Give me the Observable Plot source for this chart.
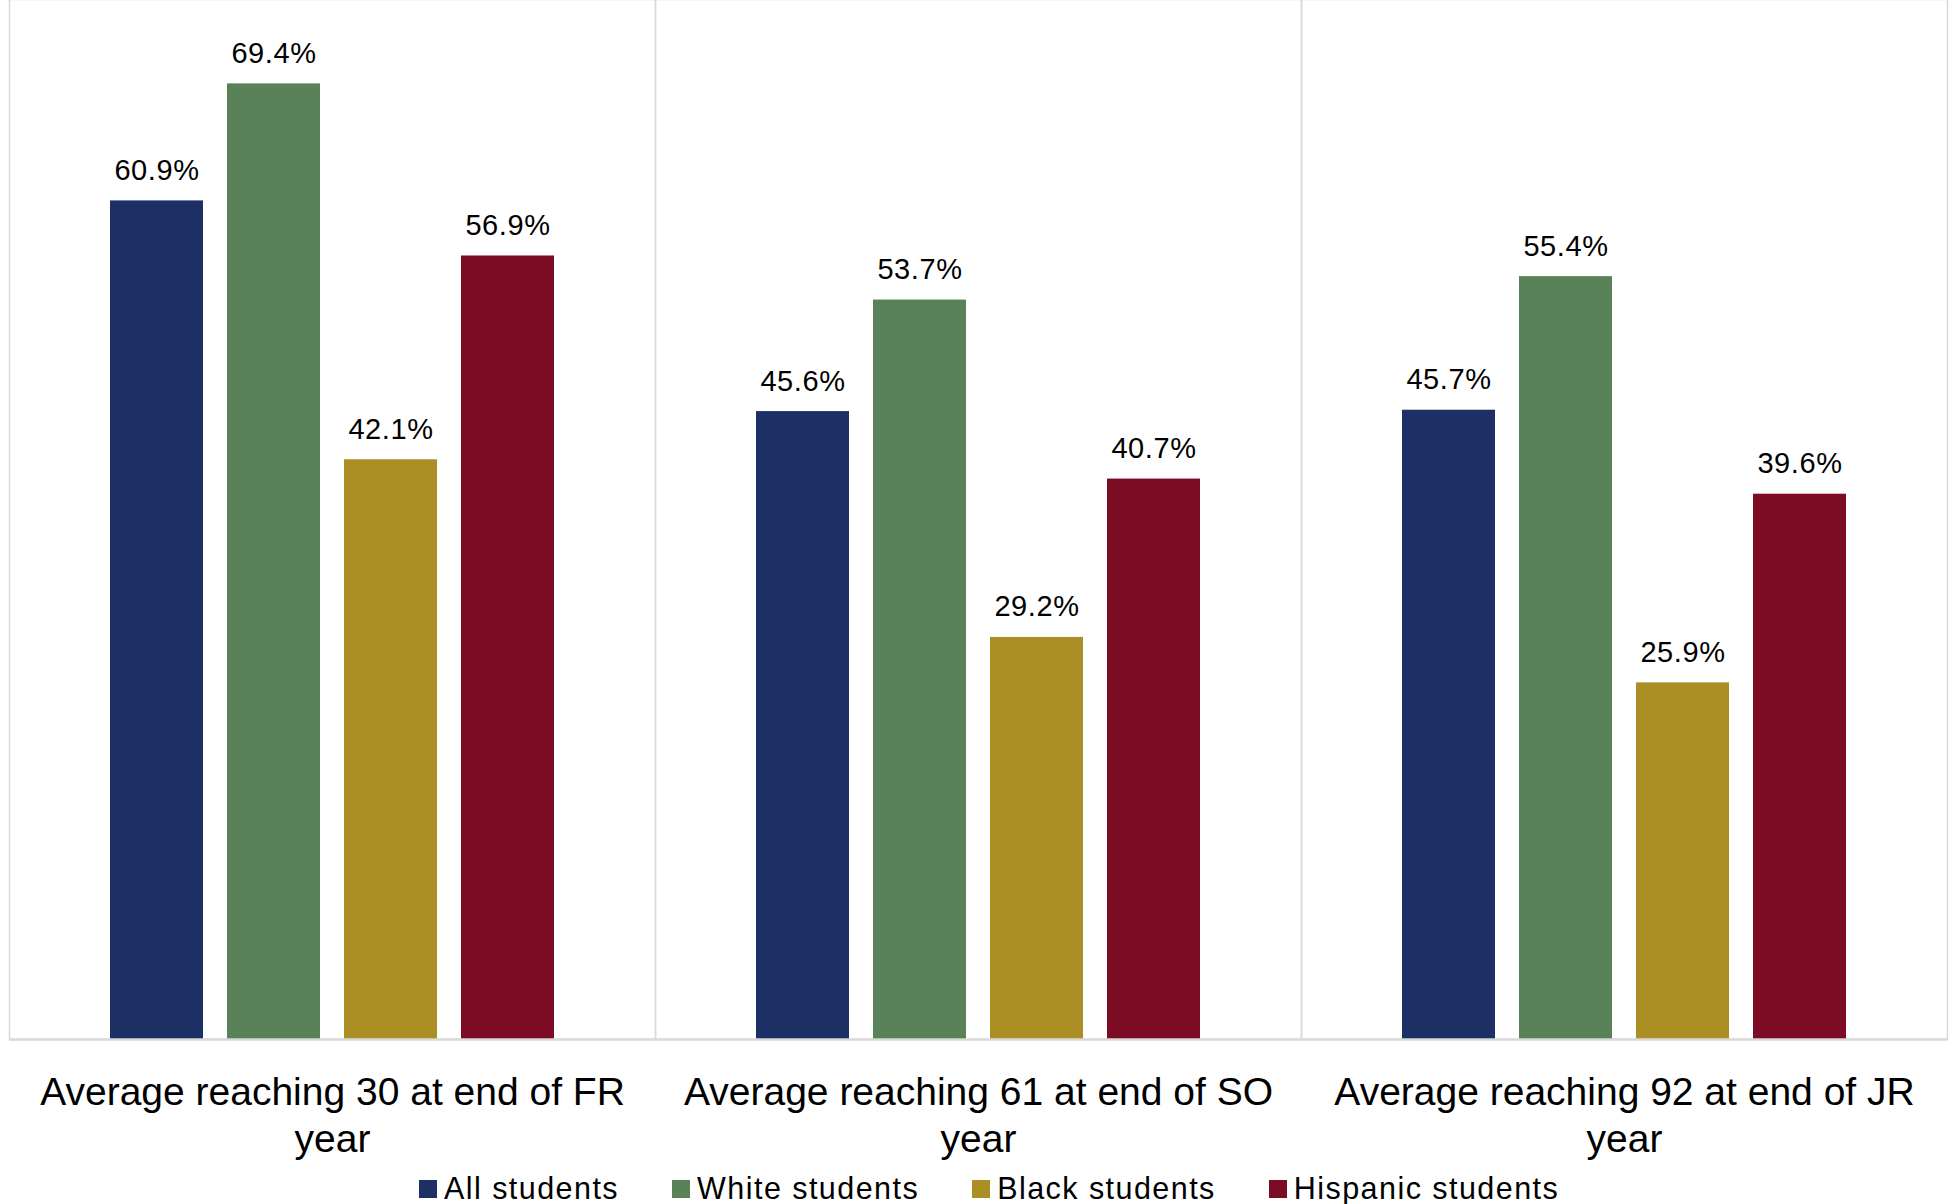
<!DOCTYPE html>
<html>
<head>
<meta charset="utf-8">
<script src="https://cdn.jsdelivr.net/npm/d3@7"></script>
<script src="https://cdn.jsdelivr.net/npm/@observablehq/plot@0.6"></script>
<style>
html, body { margin: 0; padding: 0; background: #fff; overflow: hidden; }
#wrap { position: relative; width: 1951px; height: 1204px; overflow: hidden; background: #fff; }
#chart { position: absolute; left: 0; top: -2px; }
#legend { position: absolute; left: 419px; top: 1171px; }
#legend .lg-swatches { font-family: "Liberation Sans", Arial, Helvetica, sans-serif; font-size: 30.5px; letter-spacing: 1.45px; color: #000; margin: 0; min-height: 0; }
#legend .lg-swatch { margin-right: 53px; display: inline-flex; align-items: center; }
#legend .lg-swatch > svg { margin-right: 7px; }
</style>
</head>
<body>
<div id="wrap"><div id="chart"></div><div id="legend"></div></div>
<script>
const categories = [
  "Average reaching 30 at end of FR year",
  "Average reaching 61 at end of SO year",
  "Average reaching 92 at end of JR year"
];
const series = ["All students", "White students", "Black students", "Hispanic students"];
const allStudents = [60.9, 45.6, 45.7];
const whiteStudents = [69.4, 53.7, 55.4];
const blackStudents = [42.1, 29.2, 25.9];
const hispanicStudents = [56.9, 40.7, 39.6];
const colors = ["#1c3066", "#598258", "#ab8f25", "#7b0c24"];

const seriesValues = [allStudents, whiteStudents, blackStudents, hispanicStudents];
const rows = [];
categories.forEach((g, i) => {
  series.forEach((s, j) => rows.push({group: g, series: s, value: seriesValues[j][i]}));
});

const font = '"Liberation Sans", Arial, Helvetica, sans-serif';
const H = 1167;
const plot = Plot.plot({
  width: 1951,
  height: H,
  marginLeft: 9,
  marginRight: 4,
  marginTop: 1,
  marginBottom: H - 1041,
  style: {fontFamily: font, background: "white", color: "black"},
  fx: {domain: categories, padding: 0, axis: null},
  x: {domain: series, paddingInner: 0.205, paddingOuter: 0.863, axis: null},
  y: {domain: [0, 1040 / 13.77], axis: null},
  color: {domain: series, range: colors},
  marks: [
    Plot.frame({stroke: "#d9d9d9", strokeWidth: 1.5}),
    Plot.barY(rows, {fx: "group", x: "series", y: "value", fill: "series"}),
    Plot.ruleY([0], {stroke: "#d9d9d9", strokeWidth: 2.5}),
    Plot.text(rows, {
      fx: "group", x: "series", y: "value",
      text: d => d.value.toFixed(1) + "%",
      lineAnchor: "bottom", dy: -21, fontSize: 29, fill: "black"
    }),
    Plot.text(categories, {
      fx: d => d, frameAnchor: "bottom",
      text: d => d.replace(/ year$/, "\nyear"),
      lineAnchor: "top", dy: 32, fontSize: 39, lineHeight: 1.205, fill: "black"
    })
  ]
});
document.getElementById("chart").appendChild(plot);
const textGroups = plot.querySelectorAll('g[aria-label="text"]');
if (textGroups[0]) textGroups[0].style.letterSpacing = "0.6px";

const legend = Plot.legend({
  color: {domain: series, range: colors},
  swatchSize: 18,
  className: "lg"
});
document.getElementById("legend").appendChild(legend);
</script>
</body>
</html>
